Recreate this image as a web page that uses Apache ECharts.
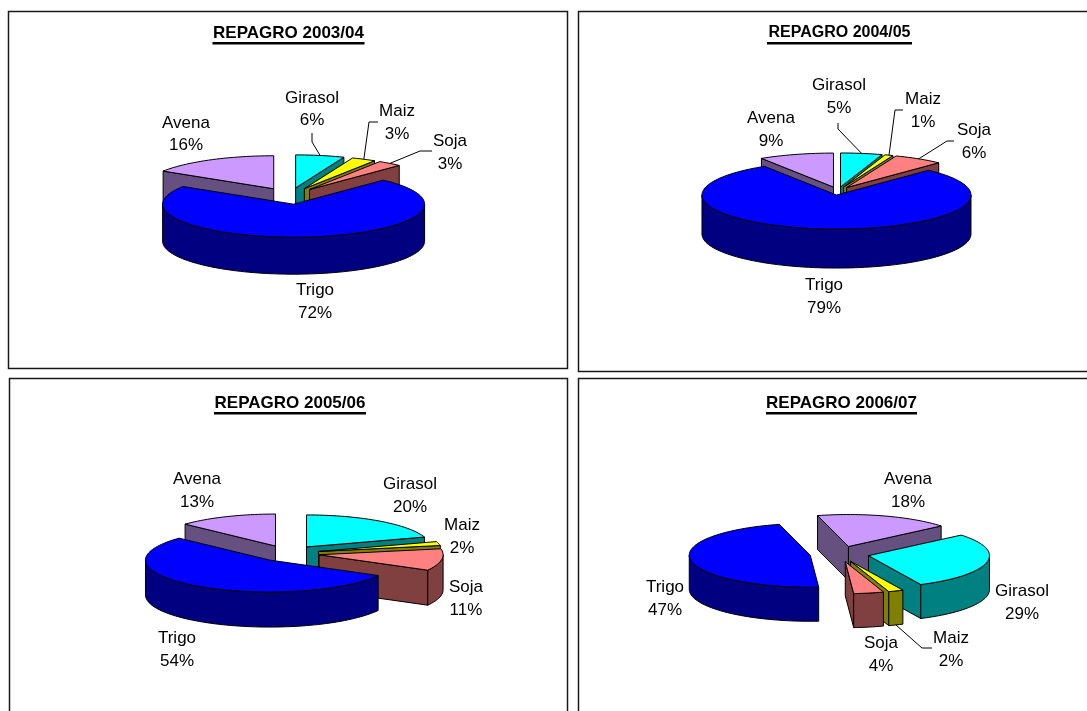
<!DOCTYPE html>
<html>
<head>
<meta charset="utf-8">
<style>html,body{margin:0;padding:0;background:#fff}#c{width:1087px;height:711px}</style>
<script src="https://cdn.jsdelivr.net/npm/echarts@6/dist/echarts.min.js"></script>
</head>
<body>
<div id="c"></div>
<script>
// ---- data ----
const crops = ['Girasol', 'Maiz', 'Soja', 'Trigo', 'Avena'];
const titles = ['REPAGRO 2003/04', 'REPAGRO 2004/05', 'REPAGRO 2005/06', 'REPAGRO 2006/07'];
const values0304 = [6, 3, 3, 72, 16];
const values0405 = [5, 1, 6, 79, 9];
const values0506 = [20, 2, 11, 54, 13];
const values0607 = [29, 2, 4, 47, 18];
const seasons = [values0304, values0405, values0506, values0607];

// ---- styles ----
const topColors = ['#00FFFF', '#FFFF00', '#FF8080', '#0000FF', '#CC99FF'];
const wallColors = ['#008080', '#808000', '#804040', '#000080', '#665080'];
const FONT = '"Liberation Sans", Arial, sans-serif';

// ---- layout (pie projection, panel frames, label anchors) ----
const frames = [[8.5, 11.5, 559, 357], [578.5, 11.5, 520, 360], [9.5, 378.5, 558, 345], [578.5, 378.5, 520, 345]];
const titleBoxes = [[288.5, 17, 152], [839.5, 16, 145], [290, 17, 152], [841.5, 17, 151]];
const titleY = [33, 33, 403, 403];
const pies = [
  { cx: 289.5, cy: 196, rx: 131, ry: 33, depth: 37, explode: 0.25, start: 0 },
  { cx: 838, cy: 191, rx: 134.5, ry: 34, depth: 39, explode: 0.12, start: 0 },
  { cx: 288, cy: 553.5, rx: 124, ry: 32, depth: 35, explode: 0.254, start: 0 },
  { cx: 839.5, cy: 554, rx: 121, ry: 32, depth: 34, explode: 0.245, start: 50 }
];
const labelAnchors = [
  [[312, 109.5], [397, 123], [450, 153], [315, 302], [186, 134.5]],
  [[839, 97], [923, 111], [974, 142], [824, 297], [771, 130]],
  [[410, 496], [462, 537], [466, 599], [177, 650], [197, 491]],
  [[1022, 603], [951, 650], [881, 655], [665, 599], [908, 491]]
];
// leader lines: start point and elbow per slice, the end sits on the slice rim
const leaders = [
  [[[312, 133], [312, 142]], [[378, 122], [369, 122]], [[432, 151], [420, 151]], null, null],
  [[[838, 123], [838, 129]], [[903, 110], [895, 110]], [[954, 141], [947, 141]], null, null],
  [null, null, null, null, null],
  [null, [[932, 648], [922, 648]], null, null, null]
];

const RAD = Math.PI / 180;

function buildSlices(values, p) {
  const total = values.reduce((a, b) => a + b, 0);
  let a = p.start;
  const slices = values.map((v) => {
    const a0 = a, a1 = a + v / total * 360;
    a = a1;
    const mid = (a0 + a1) / 2 * RAD;
    return {
      a0, a1, mid,
      ax: p.cx + p.explode * p.rx * Math.sin(mid),
      ay: p.cy - p.explode * p.ry * Math.cos(mid)
    };
  });
  slices.map((s, i) => i)
    .sort((i, j) => (-Math.cos(slices[i].mid)) - (-Math.cos(slices[j].mid)))
    .forEach((idx, rank) => { slices[idx].rank = rank; });
  return slices;
}

function rim(s, p, deg, drop) {
  return [s.ax + p.rx * Math.sin(deg * RAD), s.ay - p.ry * Math.cos(deg * RAD) + (drop || 0)];
}
function arc(s, p, from, to, drop) {
  const n = Math.max(2, Math.ceil(Math.abs(to - from) / 2));
  const pts = [];
  for (let i = 0; i <= n; i++) pts.push(rim(s, p, from + (to - from) * i / n, drop));
  return pts;
}
function poly(points, fill, z2) {
  return { type: 'polygon', z2, shape: { points }, style: { fill, stroke: '#000', lineWidth: 1, lineJoin: 'round' } };
}

function makeSeries(values, p, anchors, lead) {
  const slices = buildSlices(values, p);
  return {
    type: 'custom',
    coordinateSystem: 'none',
    silent: true,
    animation: false,
    clip: false,
    data: values.map((v, i) => ({ name: crops[i], value: [v, i] })),
    renderItem: function (params, api) {
      const i = params.dataIndex;
      const v = api.value(0);
      const s = slices[i];
      const z = s.rank * 10 + 1;
      const apex = [s.ax, s.ay];
      const apexLow = [s.ax, s.ay + p.depth];
      const children = [];
      const wall = wallColors[i];
      // visible cut faces
      if (Math.sin(s.a0 * RAD) < 0) {
        children.push(poly([apex, rim(s, p, s.a0), rim(s, p, s.a0, p.depth), apexLow], wall, z));
      }
      if (Math.sin(s.a1 * RAD) > 0) {
        children.push(poly([apex, rim(s, p, s.a1), rim(s, p, s.a1, p.depth), apexLow], wall, z));
      }
      // outer front wall
      [90, 450].forEach((lo) => {
        const from = Math.max(s.a0, lo), to = Math.min(s.a1, lo + 180);
        if (to > from) {
          children.push(poly(arc(s, p, from, to, 0).concat(arc(s, p, to, from, p.depth)), wall, z + 1));
        }
      });
      // top face
      children.push(poly([apex].concat(arc(s, p, s.a0, s.a1, 0)), topColors[i], z + 2));
      // label
      const an = anchors[i];
      children.push({
        type: 'text', z2: 1000,
        style: {
          text: crops[i] + '\n' + v + '%', x: an[0], y: an[1], align: 'center', verticalAlign: 'middle',
          font: '17px ' + FONT, lineHeight: 22.5, fill: '#000'
        }
      });
      // leader: ends on the top rim for back slices, on the wall's lower rim for front ones
      if (lead[i]) {
        const drop = Math.cos(s.mid) < 0 ? p.depth : 0;
        const end = rim(s, p, (s.a0 + s.a1) / 2, drop);
        children.push({
          type: 'polyline', z2: 999,
          shape: { points: [lead[i][0], lead[i][1], end] },
          style: { stroke: '#000', lineWidth: 1, fill: 'none' }
        });
      }
      return { type: 'group', children };
    }
  };
}

const chart = echarts.init(document.getElementById('c'), null, { renderer: 'canvas' });
chart.setOption({
  animation: false,
  backgroundColor: '#fff',
  title: titles.map((t, i) => ({
    text: t, left: titleBoxes[i][0], top: titleY[i], textAlign: 'center', textVerticalAlign: 'middle',
    textStyle: { fontFamily: FONT, fontWeight: 'bold', fontSize: titleBoxes[i][1], color: '#000' }, padding: 0
  })),
  graphic: frames.map((f) => ({
    type: 'rect', silent: true, z: -1,
    shape: { x: f[0], y: f[1], width: f[2], height: f[3] },
    style: { fill: '#fff', stroke: '#1a1a1a', lineWidth: 1.5 }
  })).concat(titleBoxes.map((b, i) => ({
    type: 'rect', silent: true, z: 5,
    shape: { x: b[0] - b[2] / 2, y: titleY[i] + 9, width: b[2], height: 2.5 },
    style: { fill: '#000' }
  }))),
  series: seasons.map((vals, i) => makeSeries(vals, pies[i], labelAnchors[i], leaders[i]))
});
</script>
</body>
</html>
